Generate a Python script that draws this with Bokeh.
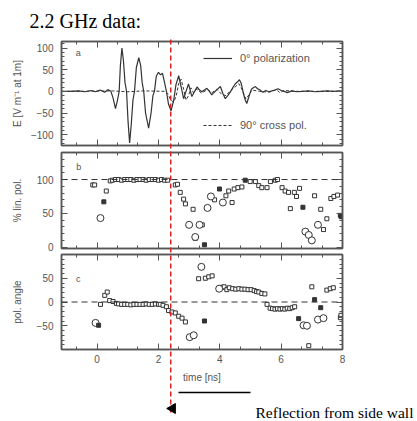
import numpy as np
from bokeh.plotting import figure
from bokeh.layouts import column
from bokeh.models import (Range1d, FixedTicker, LinearAxis, Span, Label, Legend,
                          LegendItem, CustomLabelingPolicy)
from bokeh.core.properties import value
from bokeh.embed import file_html
from bokeh.resources import INLINE

# ---------------- data ----------------
# (a) field strength, 0 deg polarization [V/m at 1 m]
t_copol = [-1.16, -0.9, -0.6, -0.4, -0.2, -0.05, 0.1, 0.25, 0.35, 0.45, 0.52, 0.6, 0.66,
           0.72, 0.76, 0.81, 0.86, 0.91, 0.96, 1.01, 1.06, 1.11, 1.17, 1.22, 1.28, 1.36,
           1.42, 1.47, 1.52, 1.58, 1.68, 1.76, 1.82, 1.87, 1.93, 2.0, 2.07, 2.13, 2.2,
           2.26, 2.33, 2.41, 2.5, 2.57, 2.66, 2.74, 2.82, 2.9, 2.98, 3.09, 3.18, 3.26,
           3.34, 3.42, 3.5, 3.58, 3.66, 3.74, 3.82, 3.91, 4.02, 4.1, 4.18, 4.26, 4.34,
           4.42, 4.5, 4.58, 4.64, 4.7, 4.77, 4.83, 4.88, 4.95, 5.03, 5.1, 5.16, 5.23,
           5.3, 5.4, 5.5, 5.6, 5.7, 5.8, 5.9, 6.0, 6.1, 6.2, 6.35, 6.5, 6.7, 6.9, 7.1,
           7.3, 7.5, 7.7, 7.9, 8.0]
e_copol = [0, 0, 1, -1, 2, -1, 3, -2, 4, 0, -15, -40, -22,
           0, 60, 100, 70, 20, 0, -70, -119, -80, -20, 0, 55, 78,
           60, 20, 0, -50, -85, -50, -10, 0, 35, 44, 38, 42, 20,
           0, -30, -45, -20, 15, 36, 10, -17, 0, 17, -12, 0, 10,
           3, -1, 3, 7, 0, -8, -2, 4, 11, -5, -17, -10, -2,
           8, 17, 22, 27, 18, -5, -20, -28, -12, 5, 9, 11, 6,
           4, -2, 2, -1, 1, 3, 6, 2, 0, -3, 1, -1, 0, 1, -1,
           0, 1, 0, 1, 0]

# (a) field strength, 90 deg cross polarization
t_cross = [-1.16, -0.5, 0.5, 1.0, 1.5, 2.2, 2.3, 2.4, 2.5, 2.58, 2.66, 2.74, 2.82, 2.9,
           2.98, 3.06, 3.14, 3.25, 3.4, 3.6, 3.75, 3.9, 4.05, 4.2, 4.35, 4.5, 4.62,
           4.72, 4.85, 4.95, 5.05, 5.3, 5.6, 5.85, 5.95, 6.1, 6.5, 8.0]
e_cross = [0, 0, 1, -1, 1, 0, -5, -20, -25, -10, 18, 28, 5, -20,
           -10, 8, -3, 5, -4, 4, -3, 5, -6, -10, 2, 10, 18,
           5, -18, -8, 3, 0, -2, 4, -3, 2, 0, 0]

# (b) percent linear polarization
lin_sq_t = [-0.14, -0.08, 0.3, 0.43, 0.5, 0.6, 0.7, 0.8, 0.9, 1.0, 1.1, 1.2, 1.3, 1.4,
            1.5, 1.6, 1.7, 1.8, 1.9, 2.0, 2.1, 2.2, 2.3, 2.55, 2.62, 2.71, 2.82, 2.88,
            3.13, 3.2, 3.43, 3.83, 4.2, 4.29, 4.4, 4.47, 4.59, 4.72, 4.99, 5.16, 5.27,
            5.37, 5.54, 5.65, 5.81, 5.88, 6.03, 6.13, 6.24, 6.3, 6.43, 6.5, 6.6, 7.09,
            7.29, 7.38, 7.49, 7.62, 7.72, 7.84]
lin_sq_v = [92, 92, 83, 98, 99, 100, 100, 99, 100, 100, 100, 99, 100, 100,
            100, 99, 100, 100, 100, 99, 100, 99, 99, 92, 93, 81, 71, 64,
            56, 13, 33, 70, 76, 83, 66, 86, 88, 89, 97, 97, 91,
            88, 88, 97, 99, 100, 88, 83, 81, 57, 81, 75, 87, 76,
            56, 26, 42, 72, 75, 77]
lin_circ_t = [0.11, 3.0, 3.2, 3.34, 3.6, 3.71, 4.1, 6.79, 6.9, 7.0, 7.2]
lin_circ_v = [43, 33, 15, 33, 58, 75, 66, 23, 18, 10, 33]
lin_fill_t = [0.22, 3.5, 3.99, 4.83, 6.71, 7.93, 7.96]
lin_fill_v = [67, 3.5, 86, 99, 59, 47, 45]

# (c) polarization angle [deg]
ang_sq_t = [0.11, 0.25, 0.33, 0.41, 0.52, 0.63, 0.7, 0.8, 0.9, 1.0, 1.1, 1.2, 1.3, 1.4,
            1.5, 1.6, 1.7, 1.8, 1.9, 2.0, 2.06, 2.15, 2.26, 2.33, 2.44, 2.55, 2.66,
            2.77, 2.88, 3.31, 3.53, 3.64, 3.75, 4.08, 4.14, 4.23, 4.31, 4.42, 4.52,
            4.62, 4.72, 4.82, 4.92, 5.02, 5.12, 5.2, 5.27, 5.37, 5.47, 5.54, 5.64,
            5.72, 5.8, 5.88, 5.96, 6.04, 6.12, 6.2, 6.28, 6.36, 6.44, 6.9, 7.0, 7.49,
            7.6, 7.7, 7.93, 7.95]
ang_sq_v = [-5, 14, 21, 3, 1, -3, -4, -5, -5, -5, -6, -5, -5, -5,
            -5, -4, -5, -5, -4, -5, -5, -7, -10, -18, -21, -23, -30,
            -34, -42, 49, 50, 53, 55, 31, 32, 26, 30, 28, 27,
            28, 27, 27, 26, 26, 24, 22, 21, 18, 17, -5, -13,
            -14, -15, -14, -15, -14, -15, -13, -14, -12, -10, -92, 32, 25,
            28, 30, -33, -28]
ang_circ_t = [-0.05, 3.02, 3.15, 3.4, 3.98, 6.73, 6.84, 7.2, 7.38]
ang_circ_v = [-44, -74, -70, 74, 28, -49, -50, -37, -34]
ang_fill_t = [0.05, 3.5, 6.57, 7.09, 7.29]
ang_fill_v = [-49, -40, -35, 5, -12]

reflection_time = 2.4  # ns, arrival of the side-wall reflection

x_ticks = [0, 2, 4, 6, 8]
x_minor = [k * 2 / 3 for k in range(-1, 13) if k % 3 != 0]

# ---------------- style ----------------
AX = "#555555"
INK = "#333333"
RED = "#dd2222"
SANS = "Liberation Sans"
SERIF = "Liberation Serif"
X_RANGE = (-1.16, 8.0)
W, H = 417, 421
LEFT, RIGHT = 61, 75
FRAME_W = W - LEFT - RIGHT

# tick-only axes (top/right, and the bottom of the upper panels) draw no labels
NO_LABELS = CustomLabelingPolicy(code="""
for (const i of indices) { indices.unset(i) }
return indices
""")


def style_axis(ax, show_labels):
    ax.axis_line_color = AX
    ax.axis_line_width = 1.5
    ax.major_tick_in = 6
    ax.major_tick_out = 0
    ax.minor_tick_in = 3
    ax.minor_tick_out = 0
    ax.major_tick_line_color = AX
    ax.minor_tick_line_color = AX
    if show_labels:
        ax.major_label_text_font = SANS
        ax.major_label_text_font_size = "10px"
        ax.major_label_text_color = AX
        ax.major_label_standoff = 8
        ax.axis_label_text_font = SANS
        ax.axis_label_text_font_size = "10px"
        ax.axis_label_text_font_style = "normal"
        ax.axis_label_text_color = AX
    else:
        ax.major_label_policy = NO_LABELS
        ax.major_label_text_font_size = "0px"
        ax.major_label_standoff = 0
        ax.axis_label = None


def make_panel(height, top, bottom, frame_h, y_range, y_ticks, y_minor, y_label,
               x_labels, label_standoff):
    p = figure(width=W, height=height, frame_width=FRAME_W, frame_height=frame_h,
               x_range=Range1d(*X_RANGE), y_range=Range1d(*y_range),
               output_backend="svg", toolbar_location=None,
               min_border_left=LEFT, min_border_right=RIGHT,
               min_border_top=top, min_border_bottom=bottom)
    p.grid.visible = False
    p.outline_line_color = AX
    p.outline_line_width = 1.5
    xt = FixedTicker(ticks=x_ticks, minor_ticks=x_minor)
    yt = FixedTicker(ticks=y_ticks, minor_ticks=y_minor)
    p.xaxis.ticker = xt
    p.yaxis.ticker = yt
    p.yaxis.axis_label = y_label
    style_axis(p.yaxis[0], True)
    p.yaxis.axis_label_standoff = label_standoff
    if x_labels:
        p.xaxis.axis_label = "time [ns]"
        style_axis(p.xaxis[0], True)
        p.xaxis.major_label_standoff = 5
        p.xaxis.axis_label_standoff = 6
    else:
        style_axis(p.xaxis[0], False)
    top_ax = LinearAxis(ticker=xt)
    right_ax = LinearAxis(ticker=yt)
    style_axis(top_ax, False)
    style_axis(right_ax, False)
    p.add_layout(top_ax, "above")
    p.add_layout(right_ax, "right")
    return p


def panel_letter(p, x, y, letter):
    p.add_layout(Label(x=x, y=y, text=letter, text_font=SANS, text_font_size="9px",
                       text_color=AX, text_align="center", text_baseline="middle"))


# ---------------- panel (a) ----------------
pa = make_panel(148, 41, 3, 104, (-125, 115), [-100, -50, 0, 50, 100],
                list(range(-120, 111, 10)), "E [V m\u207b\u00b9 at 1m]", False, 5)
r_co = pa.line(t_copol, e_copol, line_color=INK, line_width=1.2)
r_cr = pa.line(t_cross, e_cross, line_color=INK, line_width=1.0, line_dash="3 2")
for item, loc in ((LegendItem(label="0\u00b0 polarization", renderers=[r_co]), (142, 81)),
                  (LegendItem(label="90\u00b0 cross pol.", renderers=[r_cr]), (142, 14))):
    pa.add_layout(Legend(items=[item], location=loc, border_line_alpha=0,
                         background_fill_alpha=0, padding=0, margin=0, spacing=0,
                         glyph_width=29, glyph_height=10, label_standoff=8,
                         label_text_font=SANS, label_text_font_size="11px",
                         label_text_color=AX))
panel_letter(pa, -0.61, 88, "a")

# ---------------- panel (b) ----------------
pb = make_panel(105, 4, 5, 96, (-2, 140), [0, 50, 100], list(range(0, 141, 10)),
                "% lin. pol.", False, 11)
pb.add_layout(Span(location=100, dimension="width", line_color=INK, line_width=1,
                   line_dash="6 4"))
pb.scatter(lin_sq_t, lin_sq_v, marker="square", size=4, line_color=INK,
           fill_color="white", line_width=1)
pb.scatter(lin_circ_t, lin_circ_v, marker="circle", size=7, line_color=INK,
           fill_color="white", line_width=1)
pb.scatter(lin_fill_t, lin_fill_v, marker="square", size=4, line_color=INK,
           fill_color=INK)
panel_letter(pb, -0.6, 119, "b")

# ---------------- panel (c) ----------------
pc = make_panel(168, 1, 72, 95, (-100, 100), [-50, 0, 50], list(range(-90, 91, 10)),
                "pol. angle", True, 11)
pc.add_layout(Span(location=0, dimension="width", line_color=INK, line_width=1,
                   line_dash="6 4"))
pc.scatter(ang_sq_t, ang_sq_v, marker="square", size=4, line_color=INK,
           fill_color="white", line_width=1)
pc.scatter(ang_circ_t, ang_circ_v, marker="circle", size=7, line_color=INK,
           fill_color="white", line_width=1)
pc.scatter(ang_fill_t, ang_fill_v, marker="square", size=4, line_color=INK,
           fill_color=INK)
panel_letter(pc, -0.61, 49, "c")

# ---------------- transparent overlay across the whole page ----------------
# Same time scale as the panels, extended over the side margins; y in pixel rows.
ppn = FRAME_W / (X_RANGE[1] - X_RANGE[0])
ov = figure(width=W, height=H,
            x_range=Range1d(X_RANGE[0] - LEFT / ppn, X_RANGE[1] + RIGHT / ppn),
            y_range=Range1d(H, 0), output_backend="svg", toolbar_location=None,
            min_border=0, x_axis_location=None, y_axis_location=None,
            frame_align=False,
            styles={"position": "absolute", "top": "0px", "left": "0px"})
ov.grid.visible = False
ov.outline_line_color = None
ov.background_fill_alpha = 0
ov.border_fill_alpha = 0


def col(px):
    """Time value at a horizontal pixel column of the page."""
    return X_RANGE[0] + (px - LEFT) / ppn


# reflection marker through all three panels
ov.segment(x0=[reflection_time], y0=[39], x1=[reflection_time], y1=[413],
           line_color=RED, line_width=1.5, line_dash="5 3")
ov.text(x=[col(29)], y=[20], text=["2.2 GHz data:"], text_font=value(SERIF),
        text_font_size="20px", text_color="black", text_baseline="middle")
# callout below the time axis
ov.segment(x0=[col(178)], y0=[392], x1=[col(250)], y1=[392], line_color="black",
           line_width=1.5)
ov.scatter(x=[col(172)], y=[408], marker="triangle", angle=np.pi / 2, size=10,
           fill_color="black", line_color="black")
ov.text(x=[col(255)], y=[412], text=["Reflection from side wall"],
        text_font=value(SERIF), text_font_size="15.5px", text_color="black",
        text_baseline="middle")

layout = column(pa, pb, pc, ov, spacing=0, styles={"position": "relative"})
open("out.html", "w").write(file_html(layout, INLINE))
